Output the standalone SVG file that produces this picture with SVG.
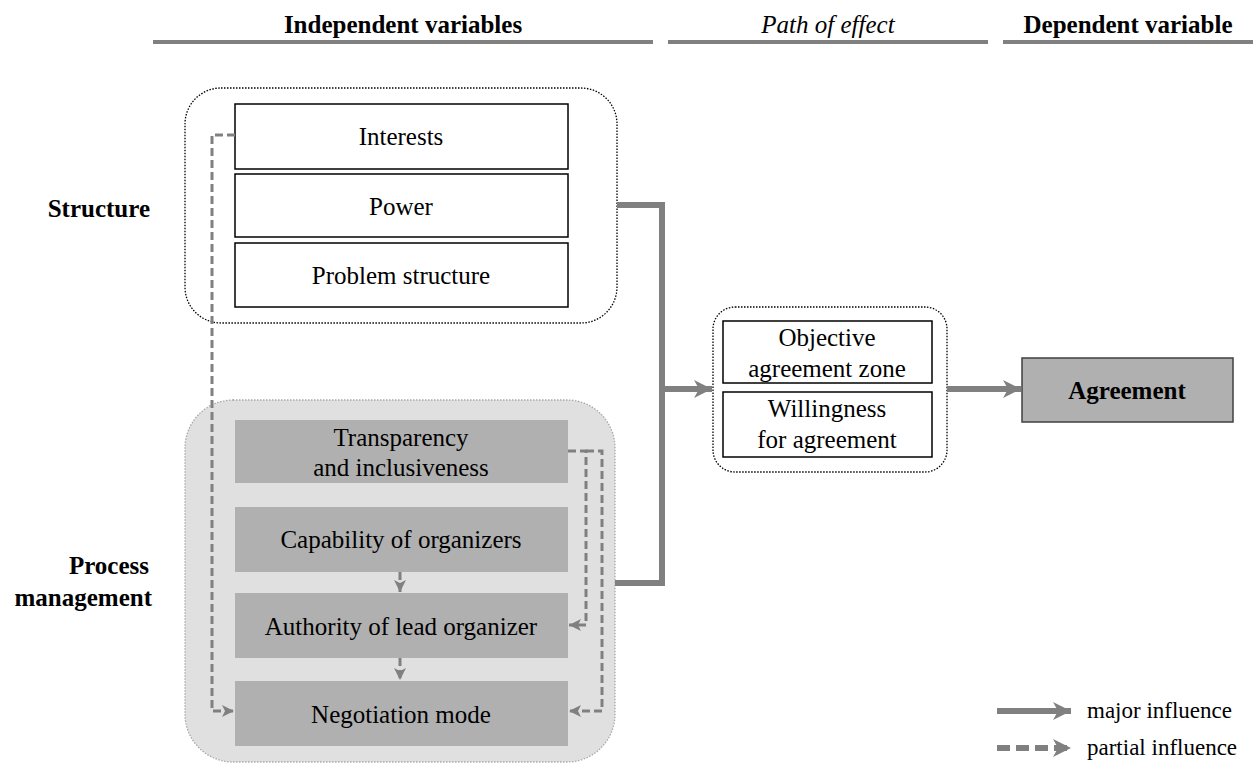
<svg xmlns="http://www.w3.org/2000/svg" width="1255" height="763" viewBox="0 0 1255 763">
<style>
text{font-family:"Liberation Serif","Times New Roman",serif;fill:#000;}
.t{font-size:25px;text-anchor:middle;}
.b{font-weight:bold;}
.h{font-size:25px;text-anchor:middle;}
.wbox{fill:#fff;stroke:#000;stroke-width:1.5;}
.gbox{fill:#b0b0b0;stroke:none;}
.major{fill:none;stroke:#808080;stroke-width:6;}
.partial{fill:none;stroke:#808080;stroke-width:3;stroke-dasharray:8 4;}
.hline{stroke:#808080;stroke-width:4;}
.grp{fill:none;stroke:#000;stroke-width:1.3;stroke-dasharray:1.5 1.5;}
</style>
<defs>
<marker id="bigArrow" markerUnits="userSpaceOnUse" markerWidth="20" markerHeight="20" viewBox="0 0 20 20" refX="18" refY="10" orient="auto">
<path d="M0,1 L18,10 L0,19 L5,10 Z" fill="#808080"/>
</marker>
<marker id="smallArrow" markerUnits="userSpaceOnUse" markerWidth="14" markerHeight="14" viewBox="0 0 14 14" refX="12" refY="7" orient="auto">
<path d="M0,1 L12,7 L0,13 L3,7 Z" fill="#808080"/>
</marker>
</defs>

<g id="headers">
<line class="hline" x1="153" y1="42" x2="653" y2="42"/>
<line class="hline" x1="668" y1="42" x2="988" y2="42"/>
<line class="hline" x1="1003" y1="42" x2="1253" y2="42"/>
<text class="h b" x="403" y="33">Independent variables</text>
<text class="h" x="828" y="33" font-style="italic">Path of effect</text>
<text class="h b" x="1128" y="33">Dependent variable</text>
</g>

<g id="row-labels">
<text class="b" x="150" y="217" font-size="25" text-anchor="end">Structure</text>
<text class="b" x="149" y="574" font-size="25" text-anchor="end">Process</text>
<text class="b" x="152" y="606" font-size="25" text-anchor="end">management</text>
</g>

<g id="structure-group">
<rect class="grp" x="185" y="88" width="432" height="235" rx="36"/>
</g>
<g id="interests"><rect class="wbox" x="235" y="104" width="333" height="65"/><text class="t" x="401" y="145">Interests</text></g>
<g id="power"><rect class="wbox" x="235" y="174" width="333" height="63"/><text class="t" x="401" y="215">Power</text></g>
<g id="problem-structure"><rect class="wbox" x="235" y="243" width="333" height="64"/><text class="t" x="401" y="284">Problem structure</text></g>

<g id="process-group">
<rect x="185" y="400" width="430" height="362" rx="48" fill="#e0e0e0" stroke="#a8a8a8" stroke-width="1.3" stroke-dasharray="1.5 1.5"/>
</g>
<g id="transparency"><rect class="gbox" x="235" y="420" width="333" height="63"/><text class="t" x="401" y="446">Transparency</text><text class="t" x="401" y="476">and inclusiveness</text></g>
<g id="capability"><rect class="gbox" x="235" y="507" width="333" height="65"/><text class="t" x="401" y="548">Capability of organizers</text></g>
<g id="authority"><rect class="gbox" x="235" y="593" width="333" height="65"/><text class="t" x="401" y="635">Authority of lead organizer</text></g>
<g id="negotiation"><rect class="gbox" x="235" y="681" width="333" height="65"/><text class="t" x="401" y="723">Negotiation mode</text></g>

<g id="path-group">
<rect class="grp" x="713" y="307" width="234" height="165" rx="22"/>
</g>
<g id="objective"><rect class="wbox" x="723" y="321" width="209" height="62"/><text class="t" x="827" y="346">Objective</text><text class="t" x="827" y="377">agreement zone</text></g>
<g id="willingness"><rect class="wbox" x="723" y="392" width="209" height="65"/><text class="t" x="827" y="417">Willingness</text><text class="t" x="827" y="448">for agreement</text></g>

<g id="agreement"><rect x="1022" y="358" width="211" height="64" fill="#b0b0b0" stroke="#404040" stroke-width="1.5"/><text class="t b" x="1127" y="399">Agreement</text></g>

<g id="connectors">
<polyline class="major" points="617,205 662,205 662,583 615,583"/>
<line class="major" x1="662" y1="389" x2="712" y2="389" marker-end="url(#bigArrow)"/>
<line class="major" x1="947" y1="389" x2="1021" y2="389" marker-end="url(#bigArrow)"/>
<polyline class="partial" points="235,135 212,135 212,711 234,711" marker-end="url(#smallArrow)"/>
<polyline class="partial" points="568,451 586,451 586,625 569,625" marker-end="url(#smallArrow)"/>
<polyline class="partial" points="586,451 602,451 602,711 569,711" marker-end="url(#smallArrow)"/>
<line class="partial" x1="400" y1="572" x2="400" y2="592" marker-end="url(#smallArrow)"/>
<line class="partial" x1="400" y1="658" x2="400" y2="680" marker-end="url(#smallArrow)"/>
</g>

<g id="legend">
<line class="major" x1="997" y1="711" x2="1071" y2="711" marker-end="url(#bigArrow)"/>
<line class="major" x1="997" y1="748" x2="1071" y2="748" stroke-dasharray="13 6" marker-end="url(#bigArrow)"/>
<text x="1087" y="718" font-size="23">major influence</text>
<text x="1087" y="755" font-size="23">partial influence</text>
</g>
</svg>
